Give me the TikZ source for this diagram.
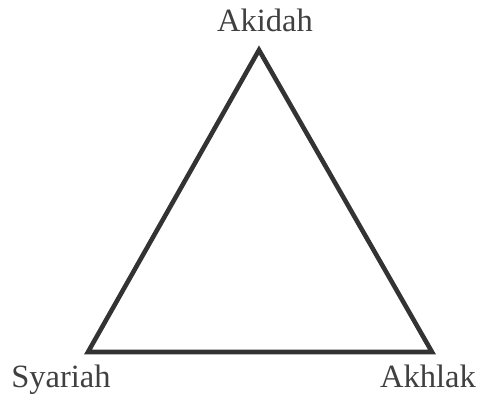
\documentclass[tikz,border=0pt]{standalone}
\usepackage{fontspec}
\setmainfont{Liberation Serif}
\usetikzlibrary{positioning}
\definecolor{cline}{HTML}{333333}
\definecolor{ctext}{HTML}{404040}
\tikzset{
  every picture/.style={x=0.02cm, y=0.02cm},
  side/.style={draw=cline, line width=2.6pt, line join=miter},
  pillar/.style={text=ctext, font=\fontsize{18.5}{22}\selectfont, inner sep=0pt, anchor=base},
}
\begin{document}
\begin{tikzpicture}
  \useasboundingbox (0,0) rectangle (477,397);
  \coordinate (top) at (259,347);
  \coordinate (left) at (88,45);
  \coordinate (right) at (432,45);
  \draw[side] (top) -- (left) -- (right) -- cycle;
  \node[pillar] (akidah) at (265,366) {Akidah};
  \node[pillar] (syariah) at (61,10) {Syariah};
  \node[pillar] (akhlak) at (428,10) {Akhlak};
\end{tikzpicture}
\end{document}
